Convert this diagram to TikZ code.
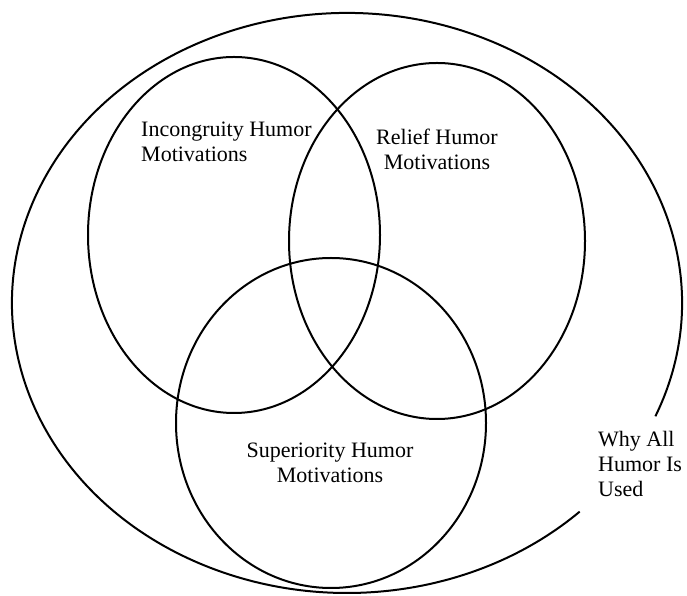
\documentclass[tikz,border=0pt]{standalone}
\usepackage{fontspec}
\setmainfont{Liberation Serif}
\usetikzlibrary{shapes.geometric}
\begin{document}
\begin{tikzpicture}[x=1pt,y=1pt,
  ring/.style={draw=black, line width=2pt, ellipse, inner sep=0pt},
  lbl/.style={font=\fontsize{22}{25}\selectfont, text=black, inner sep=0pt}]
\useasboundingbox (0,0) rectangle (687,596);
\draw[draw=black, line width=2pt] ([shift={(347,293)}]-23:335 and 290) arc[start angle=-23, end angle=314, x radius=335, y radius=290];
\node[ring, minimum width=292pt, minimum height=356pt] (inc) at (234,361) {};
\node[ring, minimum width=296pt, minimum height=356pt] (rel) at (437,355) {};
\node[ring, minimum width=310pt, minimum height=330pt] (sup) at (331,173) {};
\node[lbl, align=left, anchor=west] (tinc) at (141,454) {Incongruity Humor\\Motivations};
\node[lbl, align=center] (trel) at (437,447) {Relief Humor\\Motivations};
\node[lbl, align=center] (tsup) at (330,133) {Superiority Humor\\Motivations};
\node[lbl, align=left, anchor=west] (twhy) at (598,132) {Why All\\Humor Is\\Used};
\end{tikzpicture}
\end{document}
